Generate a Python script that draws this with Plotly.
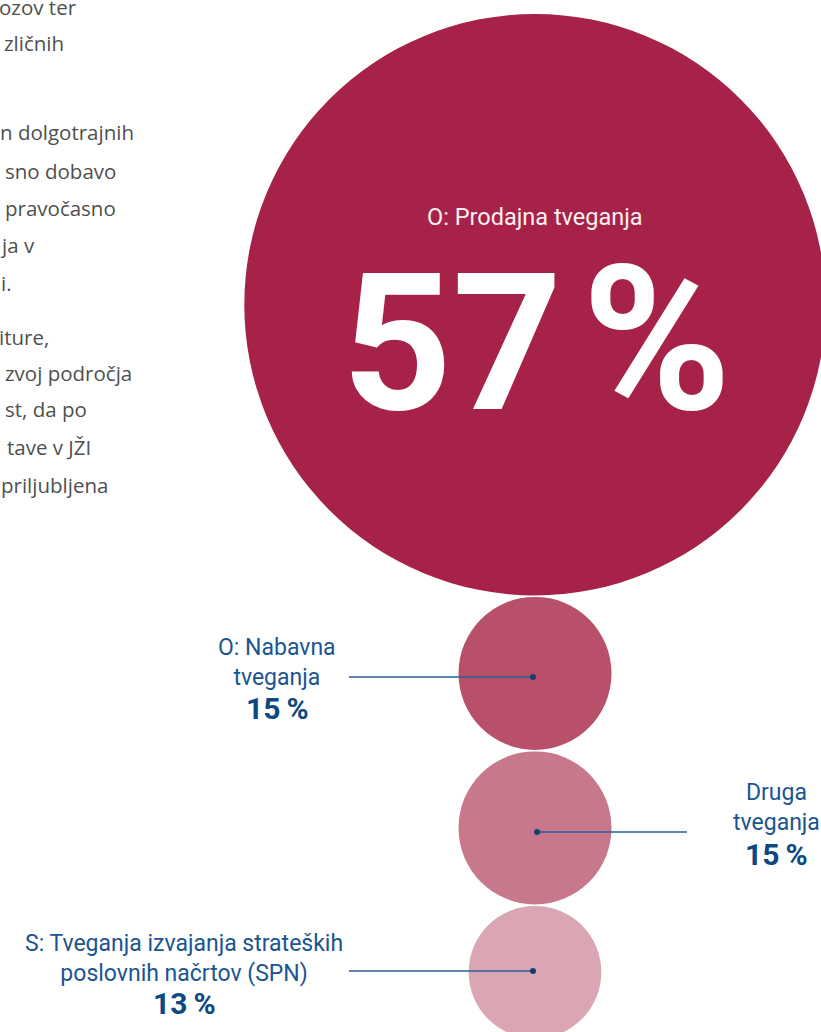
import plotly.graph_objects as go

# ---------------- data ----------------
categories = [
    "O: Prodajna tveganja",
    "O: Nabavna<br>tveganja",
    "Druga<br>tveganja",
    "S: Tveganja izvajanja strateških<br>poslovnih načrtov (SPN)",
]
values = [57, 15, 15, 13]
value_num = ["57", "15", "15", "13"]

para_lines = [
    "ozov ter", "zličnih",
    "n dolgotrajnih", "sno dobavo", "pravočasno", "ja v", "i.",
    "iture,", "zvoj področja", "st, da po", "tave v JŽI", "priljubljena",
]

# ---------------- layout / style ----------------
W, H = 821, 1032
PX_PER_PCT = 5.1       # circle radius in px per percentage point
GAP = 1.5
TOP = 14
CX = 535
colors = ["#A72248", "#B8506A", "#C8788B", "#DAA6B3"]
LABEL_BLUE = "#1B5591"
NUM_BLUE = "#0D4883"
LINE_BLUE = "#2B5E98"
FONT = "Roboto"

para_right = [79, 66, 136, 118, 118, 37, 14, 51, 134, 89, 93, 110]
para_y = [7, 43, 132, 171, 208, 245, 283, 337, 373, 409, 447, 485]

# label placement (x centre, y of text block centre, y of number, y of leader)
label_x = {1: 277, 2: 776, 3: 184}
label_y = {1: 662, 2: 807, 3: 958}
num_y = {1: 708, 2: 854, 3: 1003}
lead_y = {1: 677, 2: 832, 3: 971}
leader_x = {1: (349, CX - 2), 2: (CX + 2, 687), 3: (349, CX - 2)}

radii = [v * PX_PER_PCT for v in values]
centers = []
y = TOP
for r in radii:
    centers.append(y + r)
    y += 2 * r + GAP

fig = go.Figure()

shapes = []
for r, cy, c in zip(radii, centers, colors):
    shapes.append(dict(type="circle", xref="x", yref="y",
                       x0=CX - r, x1=CX + r, y0=cy - r, y1=cy + r,
                       fillcolor=c, line=dict(width=0), layer="below"))

for i, (xa, xb) in leader_x.items():
    fig.add_trace(go.Scatter(x=[xa, xb], y=[lead_y[i], lead_y[i]], mode="lines",
                             line=dict(color=LINE_BLUE, width=1.5),
                             hoverinfo="skip", showlegend=False))
fig.add_trace(go.Scatter(x=[leader_x[1][1], leader_x[2][0], leader_x[3][1]],
                         y=[lead_y[1], lead_y[2], lead_y[3]],
                         mode="markers", marker=dict(size=6, color="#143F73"),
                         hoverinfo="skip", showlegend=False))

ann = []
ann.append(dict(x=CX, y=centers[0] - 88, text=categories[0], showarrow=False,
                xanchor="center", yanchor="middle",
                font=dict(family=FONT, size=23.5, color="#FBEFF2")))
ann.append(dict(x=CX + 1, y=centers[0] + 35,
                text="<b>" + value_num[0] + "\u200a<span style='font-size:202px'>%</span></b>",
                showarrow=False, xanchor="center", yanchor="middle",
                font=dict(family=FONT, size=192, color="white")))

for i, lx in label_x.items():
    ann.append(dict(x=lx, y=label_y[i], text=categories[i], showarrow=False,
                    xanchor="center", yanchor="middle", align="center",
                    font=dict(family=FONT, size=23, color=LABEL_BLUE)))
    ann.append(dict(x=lx, y=num_y[i], text="<b>" + value_num[i] + "\u2009%</b>", showarrow=False,
                    xanchor="center", yanchor="middle",
                    font=dict(family=FONT, size=30, color=NUM_BLUE)))

for t, xr, yy in zip(para_lines, para_right, para_y):
    ann.append(dict(x=xr, y=yy, text=t, showarrow=False, xanchor="right", yanchor="middle",
                    font=dict(family="Open Sans", size=20.5, color="#4F4F4F")))

fig.update_layout(
    width=W, height=H, margin=dict(l=0, r=0, t=0, b=0),
    paper_bgcolor="white", plot_bgcolor="white",
    xaxis=dict(range=[0, W], visible=False, fixedrange=True),
    yaxis=dict(range=[H, 0], visible=False, fixedrange=True),
    shapes=shapes, annotations=ann, showlegend=False,
)

fig.write_html("out.html", post_script="document.body.style.margin='0';",
               config={"displayModeBar": False})
